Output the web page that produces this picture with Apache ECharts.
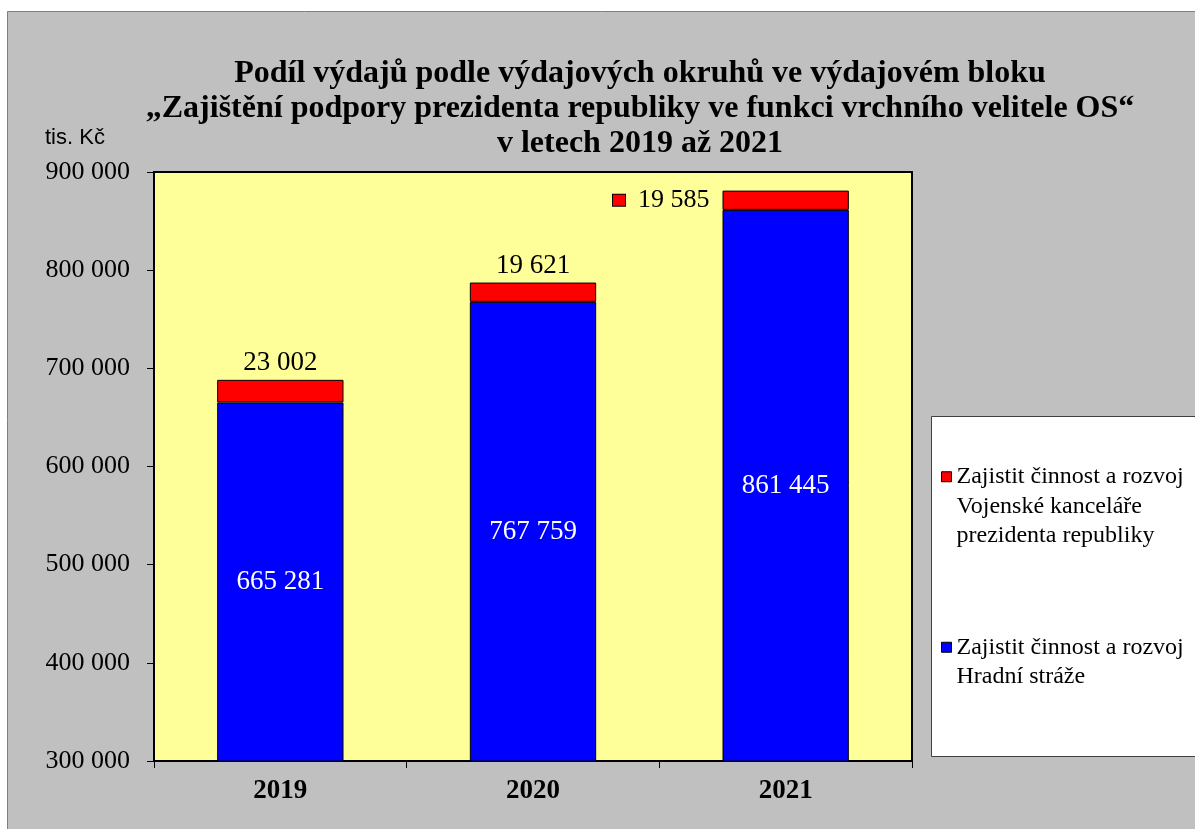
<!DOCTYPE html>
<html>
<head>
<meta charset="utf-8">
<script src="https://cdn.jsdelivr.net/npm/echarts@6/dist/echarts.min.js"></script>
<style>
html,body{margin:0;padding:0;background:#fff;}
#c{width:1195px;height:829px;}
</style>
</head>
<body>
<div id="c"></div>
<script>
const categories = ['2019', '2020', '2021'];
const seriesNames = [
  'Zajistit činnost a rozvoj Hradní stráže',
  'Zajistit činnost a rozvoj Vojenské kanceláře prezidenta republiky'
];
const legendLines = [
  ['Zajistit činnost a rozvoj', 'Hradní stráže'],
  ['Zajistit činnost a rozvoj', 'Vojenské kanceláře', 'prezidenta republiky']
];
const hradniStraz = [665281, 767759, 861445];
const vojenskaKancelar = [23002, 19621, 19585];
const yTicks = { min: 300000, max: 900000, interval: 100000 };
const titleLines = [
  'Podíl výdajů podle výdajových okruhů ve výdajovém bloku',
  '„Zajištění podpory prezidenta republiky ve funkci vrchního velitele OS“',
  'v letech 2019 až 2021'
];
const unitLabel = 'tis. Kč';

function fmt(v) {
  return String(v).replace(/\B(?=(\d{3})+(?!\d))/g, ' ');
}
// put the icon beside the first line: pad with blank lines above so that line is the middle one
function legendText(lines) {
  return '\n'.repeat(lines.length - 1) + lines.join('\n');
}
const SERIF = '"Liberation Serif", "Times New Roman", serif';
const SANS = '"Liberation Sans", Arial, sans-serif';

const chart = echarts.init(document.getElementById('c'), null, { renderer: 'canvas' });

const redData = vojenskaKancelar.map((v, i) => {
  if (i === vojenskaKancelar.length - 1) {
    return {
      value: v,
      label: {
        position: 'left',
        distance: 13,
        formatter: p => '{k|}{v|' + fmt(p.value) + '}',
        rich: {
          k: { width: 12, height: 11, backgroundColor: '#FF0000', borderColor: '#000', borderWidth: 1 },
          v: { fontFamily: SERIF, fontSize: 26, color: '#000', padding: [0, 0, 0, 13] }
        }
      }
    };
  }
  return v;
});

const legendCommon = {
  left: 941, padding: 0, z: 10,
  itemWidth: 10, itemHeight: 10,
  icon: 'rect',
  itemStyle: { borderColor: '#000', borderWidth: 1 },
  textStyle: { fontFamily: SERIF, fontSize: 24, lineHeight: 29.5, color: '#000' },
  selectedMode: false
};

const option = {
  backgroundColor: '#ffffff',
  animation: false,
  graphic: [
    { type: 'rect', z: -10, shape: { x: 7.5, y: 11.5, width: 1200, height: 830 },
      style: { fill: '#C0C0C0', stroke: '#7F7F7F', lineWidth: 1 } },
    { type: 'rect', z: 1, shape: { x: 931.5, y: 416.5, width: 300, height: 340 },
      style: { fill: '#FFFFFF', stroke: '#404040', lineWidth: 1 } },
    { type: 'text', z: 5, left: 45, top: 127,
      style: { text: unitLabel, font: '22px ' + SANS, fill: '#000' } }
  ],
  title: {
    text: titleLines.join('\n'),
    left: 640,
    top: 56,
    textAlign: 'center',
    padding: 0,
    textStyle: { fontFamily: SERIF, fontWeight: 'bold', fontSize: 32, lineHeight: 35, color: '#000' }
  },
  legend: [
    Object.assign({}, legendCommon, {
      data: [seriesNames[1]], top: 403,
      formatter: () => legendText(legendLines[1])
    }),
    Object.assign({}, legendCommon, {
      data: [seriesNames[0]], top: 603,
      formatter: () => legendText(legendLines[0])
    })
  ],
  grid: {
    left: 154, right: 283, top: 172, bottom: 68,
    show: true, backgroundColor: '#FFFF99', borderColor: '#000', borderWidth: 2
  },
  xAxis: {
    type: 'category',
    data: categories,
    axisLine: { lineStyle: { color: '#000', width: 2 } },
    axisTick: { show: true, length: 7, lineStyle: { color: '#000' } },
    axisLabel: { fontFamily: SERIF, fontWeight: 'bold', fontSize: 27, color: '#000', margin: 17 }
  },
  yAxis: {
    type: 'value',
    min: yTicks.min, max: yTicks.max, interval: yTicks.interval,
    axisLine: { show: true, lineStyle: { color: '#000', width: 1 } },
    axisTick: { show: true, length: 7, lineStyle: { color: '#000' } },
    splitLine: { show: false },
    axisLabel: { fontFamily: SERIF, fontSize: 26, color: '#000', margin: 24, formatter: v => fmt(v) }
  },
  series: [
    {
      name: seriesNames[0],
      type: 'bar',
      stack: 'total',
      barWidth: '50%',
      data: hradniStraz,
      itemStyle: { color: '#0000FF', borderColor: '#000', borderWidth: 1 },
      label: { show: true, position: 'inside', fontFamily: SERIF, fontSize: 27, color: '#fff', formatter: p => fmt(p.value) }
    },
    {
      name: seriesNames[1],
      type: 'bar',
      stack: 'total',
      barWidth: '50%',
      data: redData,
      itemStyle: { color: '#FF0000', borderColor: '#000', borderWidth: 1 },
      label: { show: true, position: 'top', distance: 3, fontFamily: SERIF, fontSize: 27, color: '#000', formatter: p => fmt(p.value) }
    }
  ]
};
chart.setOption(option);
</script>
</body>
</html>
